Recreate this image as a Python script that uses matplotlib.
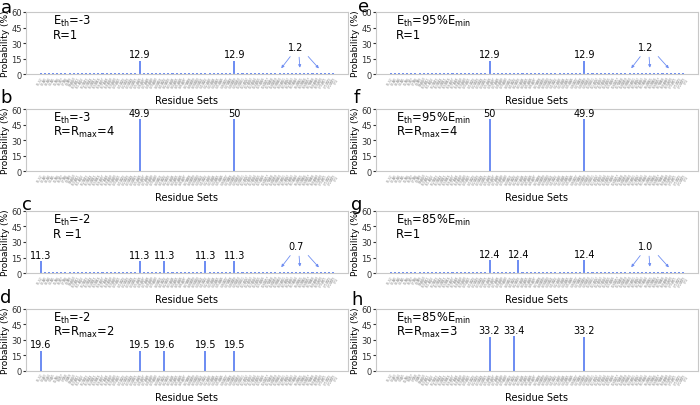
import matplotlib.pyplot as plt
import numpy as np

# residue sets on the x axis (labels unreadable in the source, kept as short names)
n_sets = 72
set_labels = ['S%d,S%d\nS%d' % (i + 1, i + 2, i + 3) for i in range(n_sets)]

# peak positions / values for each panel, plus the small background value
a_idx, a_val, a_base = [24, 47], [12.9, 12.9], 1.2
b_idx, b_val, b_base = [24, 47], [49.9, 50.0], 0.0
c_idx, c_val, c_base = [0, 24, 30, 40, 47], [11.3, 11.3, 11.3, 11.3, 11.3], 0.7
d_idx, d_val, d_base = [0, 24, 30, 40, 47], [19.6, 19.5, 19.6, 19.5, 19.5], 0.0
e_idx, e_val, e_base = [24, 47], [12.9, 12.9], 1.2
f_idx, f_val, f_base = [24, 47], [50.0, 49.9], 0.0
g_idx, g_val, g_base = [24, 31, 47], [12.4, 12.4, 12.4], 1.0
h_idx, h_val, h_base = [24, 30, 47], [33.2, 33.4, 33.2], 0.0

# sets pointed at by the arrows for the small values
arrow_idx = [58, 63, 68]

panels = [
    ('a', r'E$_{\rm th}$=-3', 'R=1', a_idx, a_val, a_base),
    ('b', r'E$_{\rm th}$=-3', r'R=R$_{\rm max}$=4', b_idx, b_val, b_base),
    ('c', r'E$_{\rm th}$=-2', 'R =1', c_idx, c_val, c_base),
    ('d', r'E$_{\rm th}$=-2', r'R=R$_{\rm max}$=2', d_idx, d_val, d_base),
    ('e', r'E$_{\rm th}$=95%E$_{\rm min}$', 'R=1', e_idx, e_val, e_base),
    ('f', r'E$_{\rm th}$=95%E$_{\rm min}$', r'R=R$_{\rm max}$=4', f_idx, f_val, f_base),
    ('g', r'E$_{\rm th}$=85%E$_{\rm min}$', 'R=1', g_idx, g_val, g_base),
    ('h', r'E$_{\rm th}$=85%E$_{\rm min}$', r'R=R$_{\rm max}$=3', h_idx, h_val, h_base),
]

# panel letter positions in pixels from the top-left corner
letter_pos = [(6, 8), (6, 98), (27, 205), (6, 298),
              (364, 7), (357, 98), (357, 205), (357, 300)]

bar_color = '#6f8ef2'
frame_color = '#c8c8c8'

W, H = 700, 406
fig = plt.figure(figsize=(W / 100, H / 100), dpi=100)

# axes rows (bottom, height) and columns (left) in figure fractions
rows = [(0.815, 0.153), (0.576, 0.153), (0.325, 0.153), (0.084, 0.153)]
cols = [0.037, 0.537]
width = 0.46

x = np.arange(n_sets)

for k, (letter, line1, line2, idx, vals, base) in enumerate(panels):
    col = k // 4
    row = k % 4
    ax = fig.add_axes([cols[col], rows[row][0], width, rows[row][1]])

    heights = np.full(n_sets, base)
    heights[idx] = vals
    ax.bar(x, heights, width=0.5, color=bar_color, linewidth=0)

    ax.set_xlim(-3.6, n_sets - 1 + 3.6)
    ax.set_ylim(0, 60)
    ax.set_yticks([0, 15, 30, 45, 60])
    ax.tick_params(axis='y', labelsize=6, length=2, pad=1, colors='#333333')
    ax.set_xticks(x)
    ax.set_xticklabels(set_labels, rotation=60, fontsize=2.2, color='#888888',
                       ha='right', rotation_mode='anchor', linespacing=0.9)
    ax.tick_params(axis='x', length=0, pad=1)
    for sp in ax.spines.values():
        sp.set_color(frame_color)
        sp.set_linewidth(0.8)

    ax.set_ylabel('Probability (%)', fontsize=6.5, labelpad=1)
    ax.set_xlabel('Residue Sets', fontsize=7, labelpad=3)

    # value labels over the peaks
    for i, v in zip(idx, vals):
        ax.text(i, v + 1.5, '%g' % v if v != int(v) else '%d' % v,
                ha='center', va='bottom', fontsize=7)

    # label with arrows for the small background bars
    if base > 0:
        ax.text(62, 21, '%.1f' % base, ha='center', va='bottom', fontsize=7)
        starts = [(61, 19), (62.7, 19), (64.5, 19)]
        for (sx, sy), ti in zip(starts, arrow_idx):
            ax.annotate('', xy=(ti, 3.5), xytext=(sx, sy),
                        arrowprops=dict(arrowstyle='-|>', color=bar_color,
                                        lw=0.6, mutation_scale=4))

    tx = 0.085 if col == 0 else 0.062
    ax.text(tx, 0.86, line1, transform=ax.transAxes, fontsize=8.3, va='center')
    ax.text(tx, 0.64, line2, transform=ax.transAxes, fontsize=8.3, va='center')

    # panel letter
    px, py = letter_pos[k]
    fig.text(px / W, 1 - py / H, letter, fontsize=13, ha='center', va='center')

fig.savefig('out.png', dpi=100)
